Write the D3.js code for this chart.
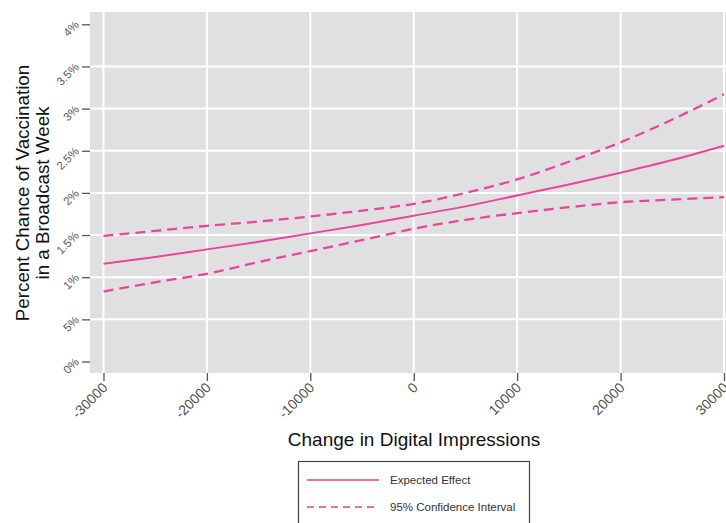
<!DOCTYPE html>
<html>
<head>
<meta charset="utf-8">
<script src="https://cdn.jsdelivr.net/npm/d3@7"></script>
<style>
  html, body { margin: 0; padding: 0; background: #fff; }
  svg { display: block; font-family: "Liberation Sans", Arial, sans-serif; }
</style>
</head>
<body>
<svg id="chart" width="726" height="523"></svg>
<script>
// Change in digital impressions (x) and predicted vaccination chance in percent
const impressions = [-30000, -25000, -20000, -15000, -10000, -5000, 0, 5000, 10000, 15000, 20000, 25000, 30000];
const expectedEffect = [1.16, 1.24, 1.33, 1.42, 1.52, 1.62, 1.73, 1.84, 1.97, 2.10, 2.24, 2.39, 2.56];
const upperCI = [1.49, 1.55, 1.61, 1.66, 1.72, 1.79, 1.87, 2.00, 2.16, 2.37, 2.60, 2.87, 3.17];
const lowerCI = [0.83, 0.94, 1.04, 1.18, 1.31, 1.44, 1.575, 1.68, 1.76, 1.83, 1.89, 1.92, 1.95];

const xTicks = [-30000, -20000, -10000, 0, 10000, 20000, 30000];
const xTickLabels = ["-30000", "-20000", "-10000", "0", "10000", "20000", "30000"];
const yTicks = [0, 0.5, 1, 1.5, 2, 2.5, 3, 3.5, 4];
const yTickLabels = ["0%", "5%", "1%", "1.5%", "2%", "2.5%", "3%", "3.5%", "4%"];

const legendItems = ["Expected Effect", "95% Confidence Interval"];

const svg = d3.select("#chart");

const panel = { left: 90, top: 12, right: 760, bottom: 373 };
const x = d3.scaleLinear().domain([-30000, 30000]).range([103.5, 724]);
const y = d3.scaleLinear().domain([0, 4]).range([361.5, 24.3]);

const pink = "#e8469b";
const legendPink = "#f06aae";

// plot background
svg.append("rect")
  .attr("x", panel.left).attr("y", panel.top)
  .attr("width", panel.right - panel.left).attr("height", panel.bottom - panel.top)
  .attr("fill", "#e0e0e0");

// grid lines
svg.append("g").selectAll("line").data(yTicks.filter(d => d > 0 && d < 4)).join("line")
  .attr("x1", panel.left).attr("x2", panel.right)
  .attr("y1", d => y(d)).attr("y2", d => y(d))
  .attr("stroke", "#ffffff").attr("stroke-width", 2);

svg.append("g").selectAll("line").data(xTicks).join("line")
  .attr("x1", d => x(d)).attr("x2", d => x(d))
  .attr("y1", panel.top).attr("y2", panel.bottom)
  .attr("stroke", "#ffffff").attr("stroke-width", 2);

// y axis
const yAxis = d3.axisLeft(y).tickValues(yTicks)
  .tickFormat((d, i) => yTickLabels[i]).tickSize(8).tickPadding(4);
const gy = svg.append("g").attr("transform", `translate(${panel.left},0)`).call(yAxis);
gy.select(".domain").remove();
gy.selectAll(".tick line").attr("stroke", "#555").attr("stroke-width", 1.3);
gy.selectAll(".tick text")
  .attr("fill", "#5a5a5a").attr("font-size", 11.5)
  .attr("x", -11).attr("dy", "0.1em")
  .attr("text-anchor", "end")
  .attr("transform", "rotate(-45,-11,0)");

// x axis
const xAxis = d3.axisBottom(x).tickValues(xTicks)
  .tickFormat((d, i) => xTickLabels[i]).tickSize(8).tickPadding(4);
const gx = svg.append("g").attr("transform", `translate(0,${panel.bottom})`).call(xAxis);
gx.select(".domain").remove();
gx.selectAll(".tick line").attr("stroke", "#555").attr("stroke-width", 1.3);
gx.selectAll(".tick text")
  .attr("fill", "#505050").attr("font-size", 14)
  .attr("x", 1).attr("y", 12).attr("dy", "0.35em")
  .attr("text-anchor", "end")
  .attr("transform", "rotate(-45,1,12)");

// axis titles
svg.append("text")
  .attr("x", 414).attr("y", 446)
  .attr("text-anchor", "middle").attr("font-size", 19).attr("fill", "#111")
  .text("Change in Digital Impressions");

const yTitle = svg.append("text")
  .attr("transform", "translate(29,193) rotate(-90)")
  .attr("text-anchor", "middle").attr("font-size", 18.8).attr("fill", "#111");
yTitle.append("tspan").attr("x", 0).attr("dy", 0).text("Percent Chance of Vaccination");
yTitle.append("tspan").attr("x", 0).attr("dy", 19.5).text("in a Broadcast Week");

// lines
const line = d3.line().x((d, i) => x(impressions[i])).y(d => y(d)).curve(d3.curveMonotoneX);
svg.append("clipPath").attr("id", "panelClip").append("rect")
  .attr("x", panel.left).attr("y", panel.top)
  .attr("width", panel.right - panel.left).attr("height", panel.bottom - panel.top);

const lines = svg.append("g").attr("clip-path", "url(#panelClip)");
[upperCI, lowerCI].forEach(series => {
  lines.append("path").datum(series)
    .attr("d", line).attr("fill", "none")
    .attr("stroke", pink).attr("stroke-width", 2.3)
    .attr("stroke-dasharray", "10,6");
});
lines.append("path").datum(expectedEffect)
  .attr("d", line).attr("fill", "none")
  .attr("stroke", pink).attr("stroke-width", 2);

// legend
const legend = svg.append("g");
legend.append("rect")
  .attr("x", 298.5).attr("y", 461.5).attr("width", 231).attr("height", 80)
  .attr("fill", "#fff").attr("stroke", "#444").attr("stroke-width", 1.2);
legendItems.forEach((label, i) => {
  const ly = 480 + i * 27;
  legend.append("line")
    .attr("x1", 307).attr("x2", 379).attr("y1", ly).attr("y2", ly)
    .attr("stroke", legendPink).attr("stroke-width", 2)
    .attr("stroke-dasharray", i === 1 ? "7,5" : null);
  legend.append("text")
    .attr("x", 390).attr("y", ly).attr("dy", "0.35em")
    .attr("font-size", 11.5).attr("fill", "#333")
    .text(label);
});
</script>
</body>
</html>
